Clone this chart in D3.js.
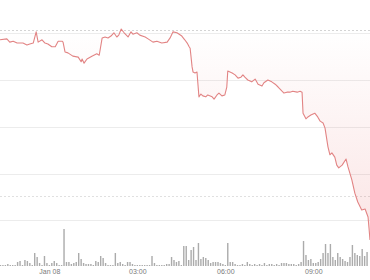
<!DOCTYPE html>
<html>
<head>
<meta charset="utf-8">
<script src="https://cdn.jsdelivr.net/npm/d3@7"></script>
<style>
  body { margin: 0; background: #fff; }
  svg { display: block; }
</style>
</head>
<body>
<script>
const width = 370;
const height = 280;

// minutes after Jan 07 22:19
const priceMinutes = [0, 14, 20, 27, 35, 41, 47, 55, 61, 68, 74, 78, 86, 92, 98, 106, 113, 119, 127, 129,
  133, 139, 149, 160, 166, 168, 172, 178, 188, 198, 203, 209, 215, 221, 227, 233, 239, 243, 248, 254,
  262, 268, 272, 280, 286, 297, 303, 313, 321, 331, 342, 348, 354, 362, 372, 378, 383, 387, 389, 393,
  395, 399, 403, 407, 411, 415, 421, 425, 434, 438, 444, 448, 454, 460, 464, 466, 475, 481, 487, 493,
  497, 501, 507, 515, 522, 528, 536, 540, 548, 556, 563, 569, 577, 581, 587, 593, 599, 608, 614, 618,
  620, 626, 630, 636, 644, 650, 655, 661, 665, 671, 675, 679, 685, 689, 693, 700, 708, 712, 720, 726,
  732, 740, 747, 753, 755, 757];
const priceValues = [100.86, 100.88, 100.81, 100.83, 100.79, 100.79, 100.79, 100.75, 100.77, 100.79, 101.03, 100.81, 100.86, 100.79, 100.77, 100.71, 100.71, 100.83, 100.83, 100.81,
  100.60, 100.58, 100.51, 100.49, 100.39, 100.45, 100.36, 100.45, 100.51, 100.56, 100.53, 100.90, 100.92, 100.90, 100.94, 101.01, 100.92, 100.96, 101.09, 101.01,
  100.92, 101.03, 100.98, 101.01, 100.96, 100.92, 100.88, 100.81, 100.83, 100.79, 100.81, 100.90, 101.03, 101.01, 100.94, 100.86, 100.79, 100.71, 100.68, 100.28,
  100.17, 100.15, 100.17, 99.64, 99.70, 99.66, 99.64, 99.68, 99.64, 99.59, 99.68, 99.72, 99.66, 99.68, 99.85, 100.19, 100.15, 100.11, 100.04, 100.06,
  100.11, 100.06, 100.00, 99.96, 100.02, 99.91, 99.87, 99.94, 100.00, 99.96, 99.91, 99.85, 99.76, 99.72, 99.74, 99.74, 99.76, 99.74, 99.76, 99.74,
  99.29, 99.17, 99.21, 99.25, 99.29, 99.21, 99.12, 99.08, 98.97, 98.57, 98.40, 98.44, 98.35, 98.18, 98.12, 98.18, 98.31, 98.14, 97.86, 97.58,
  97.39, 97.22, 97.24, 97.07, 96.83, 96.58];

// 5 minute volume bars, first one at 22:20
const volumeValues = [10, 10, 10, 20, 10, 10, 10, 40, 50, 10, 60, 50, 30, 10, 130, 90, 30, 10, 100, 30,
  10, 30, 50, 30, 10, 10, 370, 40, 40, 20, 30, 40, 130, 70, 30, 20, 20, 20, 10, 50,
  40, 100, 80, 30, 10, 10, 10, 130, 30, 40, 20, 10, 40, 40, 20, 10, 10, 10, 10, 10,
  10, 10, 100, 30, 10, 10, 10, 10, 20, 20, 90, 60, 40, 50, 10, 200, 200, 60, 160, 190,
  60, 230, 70, 90, 80, 60, 30, 40, 40, 40, 30, 20, 10, 230, 40, 40, 20, 10, 10, 20,
  10, 40, 20, 10, 20, 10, 20, 10, 30, 10, 20, 20, 10, 20, 10, 30, 30, 30, 20, 20,
  20, 10, 20, 40, 250, 110, 60, 70, 30, 30, 40, 70, 130, 220, 130, 220, 90, 60, 130, 90,
  70, 50, 40, 90, 210, 130, 110, 100, 170, 100, 140];

const priceTicks = [97, 98, 99, 100, 101];
const previousClose = 101.06;
const volumeRefLine = 700;
const tickTimes = ["2024-01-08T00:00", "2024-01-08T03:00", "2024-01-08T06:00", "2024-01-08T09:00"];
const tickLabels = ["Jan 08", "03:00", "06:00", "09:00"];

const start = new Date("2024-01-07T22:19");
const addMin = (m) => new Date(start.getTime() + m * 60000);

const data = priceMinutes.map((m, i) => ({ t: addMin(m), p: priceValues[i] }));
const vols = volumeValues.map((v, i) => ({ t: addMin(1 + 5 * i), v: v }));

const svg = d3.select("body").append("svg")
  .attr("width", width)
  .attr("height", height);

const x = d3.scaleTime()
  .domain([start, addMin(757)])
  .range([0, 370]);

const y = d3.scaleLinear()
  .domain([97, 101])
  .range([220.25, 33.25]);

const yVol = d3.scaleLinear()
  .domain([0, 500])
  .range([266, 216]);

// gridlines
svg.append("g")
  .selectAll("line")
  .data(priceTicks)
  .join("line")
  .attr("x1", 0).attr("x2", width)
  .attr("y1", d => Math.round(y(d)) + 0.5)
  .attr("y2", d => Math.round(y(d)) + 0.5)
  .attr("stroke", "#ececec")
  .attr("stroke-width", 1);

svg.append("line")
  .attr("x1", 0).attr("x2", width)
  .attr("y1", Math.round(y(previousClose)) + 0.5)
  .attr("y2", Math.round(y(previousClose)) + 0.5)
  .attr("stroke", "#d4d4d4")
  .attr("stroke-dasharray", "2,2");

svg.append("line")
  .attr("x1", 0).attr("x2", width)
  .attr("y1", Math.round(yVol(volumeRefLine)) + 0.5)
  .attr("y2", Math.round(yVol(volumeRefLine)) + 0.5)
  .attr("stroke", "#e0e0e0")
  .attr("stroke-dasharray", "2,2");

// volume
svg.append("g")
  .selectAll("rect")
  .data(vols)
  .join("rect")
  .attr("x", d => x(d.t) - 0.7)
  .attr("width", 1.4)
  .attr("y", d => yVol(d.v))
  .attr("height", d => yVol(0) - yVol(d.v))
  .attr("fill", "#ababab");

// area fill below previous close
const grad = svg.append("defs").append("linearGradient")
  .attr("id", "fade")
  .attr("gradientUnits", "userSpaceOnUse")
  .attr("x1", 0).attr("x2", 0)
  .attr("y1", y(previousClose)).attr("y2", 260);
grad.append("stop").attr("offset", 0).attr("stop-color", "#e04848").attr("stop-opacity", 0);
grad.append("stop").attr("offset", 1).attr("stop-color", "#e04848").attr("stop-opacity", 0.16);

svg.append("path")
  .datum(data)
  .attr("fill", "url(#fade)")
  .attr("d", d3.area()
    .x(d => x(d.t))
    .y0(y(previousClose))
    .y1(d => y(d.p)));

svg.append("path")
  .datum(data)
  .attr("fill", "none")
  .attr("stroke", "#e28484")
  .attr("stroke-width", 1.1)
  .attr("stroke-linejoin", "round")
  .attr("d", d3.line()
    .x(d => x(d.t))
    .y(d => y(d.p)));

// x axis
const xAxis = d3.axisBottom(x)
  .tickValues(tickTimes.map(s => new Date(s)))
  .tickFormat((d, i) => tickLabels[i])
  .tickSize(0)
  .tickPadding(0);

const gx = svg.append("g")
  .attr("transform", "translate(0, 266)")
  .call(xAxis);
gx.select(".domain").remove();
gx.selectAll("text")
  .attr("dy", "7.5px")
  .attr("fill", "#7a7a7a")
  .style("font-family", "Liberation Sans, Arial, sans-serif")
  .style("font-size", "7px");
</script>
</body>
</html>
